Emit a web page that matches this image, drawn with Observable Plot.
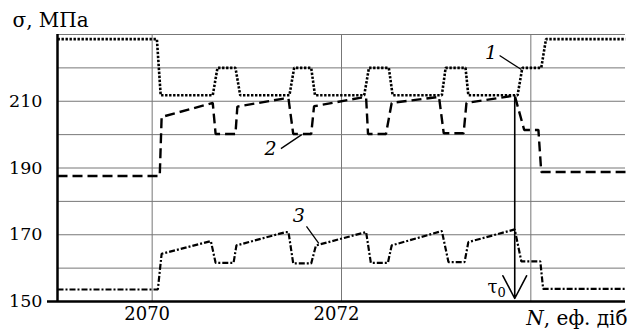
<!DOCTYPE html>
<html><head><meta charset="utf-8">
<script src="https://cdn.jsdelivr.net/npm/d3@7"></script>
<script src="https://cdn.jsdelivr.net/npm/@observablehq/plot@0.6"></script>
<style>
body{margin:0;background:#fff}
svg{display:block}
</style>
</head><body><div id="chart"></div>
<script>
// Curve 1 (dotted)
const days1 = [2069, 2070.05, 2070.09, 2070.64, 2070.69, 2070.88, 2070.93, 2071.45, 2071.50, 2071.68, 2071.72, 2072.24, 2072.29, 2072.50, 2072.54, 2073.06, 2073.10, 2073.31, 2073.34, 2073.86, 2073.91, 2074.11, 2074.16, 2075];
const sigma1 = [228.6, 228.6, 211.8, 211.8, 220, 220, 211.8, 211.8, 220, 220, 211.8, 211.8, 220, 220, 211.8, 211.8, 220, 220, 211.8, 211.8, 220, 220, 228.6, 228.6];
// Curve 2 (dashed)
const days2 = [2069, 2070.05, 2070.08, 2070.10, 2070.64, 2070.67, 2070.88, 2070.90, 2071.39, 2071.44, 2071.49, 2071.68, 2071.71, 2072.21, 2072.26, 2072.28, 2072.47, 2072.53, 2073.03, 2073.08, 2073.29, 2073.32, 2073.83, 2073.93, 2074.08, 2074.11, 2075];
const sigma2 = [187.6, 187.6, 187.6, 205.3, 209.5, 200.2, 200.2, 208.4, 210.8, 210.8, 200.2, 200.2, 208.5, 211.1, 211.1, 200.2, 200.2, 209.5, 211.3, 200.4, 200.4, 209.5, 211.7, 201.4, 201.4, 188.8, 188.8];
// Curve 3 (dash-dot)
const days3 = [2069, 2070.06, 2070.10, 2070.62, 2070.67, 2070.86, 2070.89, 2071.41, 2071.44, 2071.49, 2071.68, 2071.73, 2072.26, 2072.31, 2072.49, 2072.53, 2073.06, 2073.13, 2073.30, 2073.34, 2073.83, 2073.90, 2074.10, 2074.13, 2075];
const sigma3 = [153.6, 153.6, 164.3, 168.1, 161.6, 161.6, 166.8, 170.8, 170.8, 161.4, 161.4, 166.8, 170.8, 161.6, 161.6, 166.8, 171.1, 161.8, 161.8, 167.8, 171.6, 162.0, 162.0, 153.8, 153.8];

const yTickLabels = [150, 170, 190, 210];
const yGrid = [160, 170, 180, 190, 200, 210, 220, 230];
const xTickLabels = [2070, 2072];
const xGrid = [2070, 2072, 2074];

// annotations: curve numbers and leaders (data coordinates)
const labelText = ["1", "2", "3"];
const labelX = [2073.58, 2071.25, 2071.55];
const labelY = [224.6, 195.8, 175.5];
const leaderX1 = [2073.67, 2071.36, 2071.63];
const leaderY1 = [223.7, 195.8, 172.5];
const leaderX2 = [2073.90, 2071.58, 2071.76];
const leaderY2 = [219.5, 200.0, 167.4];

// tau0 arrow
const tauX = 2073.83;
const tauTop = 211.7;
const tauBottom = 150.9;

const toRows = (xs, ys) => xs.map((x, i) => ({x, y: ys[i]}));
const c1 = toRows(days1, sigma1);
const c2 = toRows(days2, sigma2);
const c3 = toRows(days3, sigma3);
const labels = labelText.map((t, i) => ({t, x: labelX[i], y: labelY[i], x1: leaderX1[i], y1: leaderY1[i], x2: leaderX2[i], y2: leaderY2[i]}));

const font = "DejaVu Serif";
const lineStyle = {x: "x", y: "y", stroke: "black", strokeLinecap: "butt", strokeLinejoin: "miter"};
const plot = Plot.plot({
  width: 635,
  height: 329,
  marginLeft: 57,
  marginRight: 10,
  marginTop: 34,
  marginBottom: 28,
  style: {fontFamily: font, fontSize: "18px", color: "black", background: "white"},
  x: {domain: [2069, 2075]},
  y: {domain: [150, 230]},
  marks: [
    Plot.gridY(yGrid, {stroke: "#777", strokeOpacity: 1, strokeWidth: 1}),
    Plot.gridX(xGrid, {stroke: "#777", strokeOpacity: 1, strokeWidth: 1}),
    Plot.line(c1, {...lineStyle, strokeWidth: 2.6, strokeDasharray: "2.4,1.6"}),
    Plot.line(c2, {...lineStyle, strokeWidth: 2.4, strokeDasharray: "10,5"}),
    Plot.line(c3, {...lineStyle, strokeWidth: 2.2, strokeDasharray: "6,2,2,2"}),
    Plot.arrow([0], {x1: () => tauX, y1: () => tauTop, x2: () => tauX, y2: () => tauBottom, stroke: "black", strokeWidth: 1.6, headLength: 24, headAngle: 55}),
    Plot.text(["τ0"], {x: () => tauX, y: () => tauBottom, text: d => d, textAnchor: "end", lineAnchor: "bottom", dx: -9, dy: -5, fontSize: 18, fontFamily: font}),
    Plot.link(labels, {x1: "x1", y1: "y1", x2: "x2", y2: "y2", stroke: "black", strokeWidth: 1.3}),
    Plot.text(labels, {x: "x", y: "y", text: "t", fontStyle: "italic", fontSize: 19, fontFamily: font}),
    Plot.ruleX([2069], {stroke: "black", strokeWidth: 2.5}),
    Plot.ruleY([150], {stroke: "black", strokeWidth: 2.5}),
    Plot.axisY([150], {tickSize: 10, strokeWidth: 2.5, tickFormat: () => "", label: null}),
    Plot.axisY(yTickLabels, {tickSize: 0, tickPadding: 15, fontSize: 17.5, label: null, fontFamily: font}),
    Plot.axisX(xTickLabels, {tickSize: 0, tickPadding: 6, fontSize: 18, dx: -5, tickFormat: d => String(d), label: null, fontFamily: font}),
    Plot.text(["σ, МПа"], {frameAnchor: "top-left", text: d => d, textAnchor: "start", lineAnchor: "bottom", dx: -45, dy: -8, fontSize: 20, fontFamily: font}),
    Plot.text(["N, еф. діб"], {frameAnchor: "bottom-right", text: d => d, textAnchor: "end", lineAnchor: "bottom", dx: 2, dy: 23, fontSize: 20, fontFamily: font})
  ]
});
document.getElementById("chart").appendChild(plot);
const svg = d3.select(plot);
svg.selectAll("text").filter(function() { return this.textContent === "N, еф. діб"; }).each(function() {
  const t = d3.select(this); t.text("");
  t.append("tspan").attr("font-style", "italic").text("N");
  t.append("tspan").text(", еф. діб");
});
svg.selectAll("text").filter(function() { return this.textContent === "τ0"; }).each(function() {
  const t = d3.select(this); t.text("");
  t.append("tspan").text("τ");
  t.append("tspan").attr("font-size", "13px").attr("dy", "0.3em").text("0");
});
</script></body></html>
